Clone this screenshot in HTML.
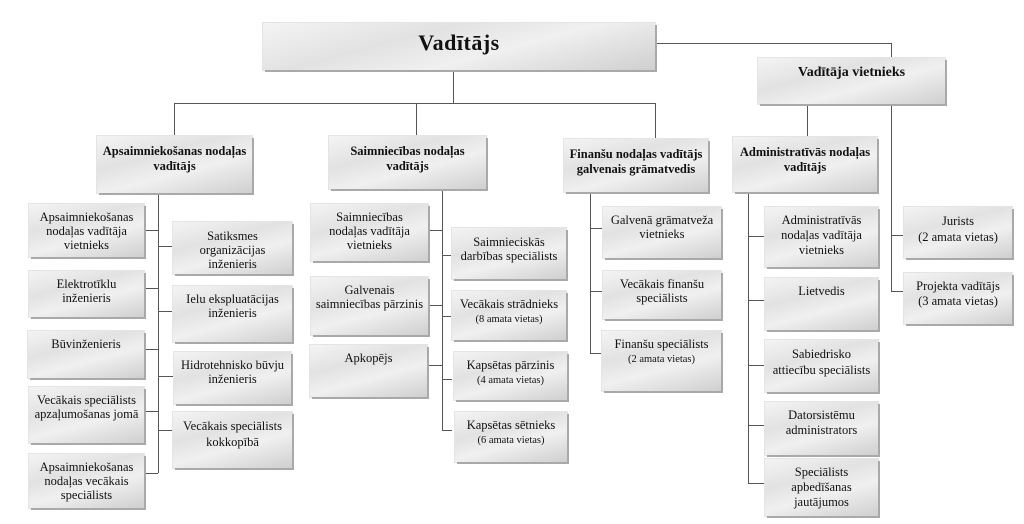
<!DOCTYPE html>
<html><head><meta charset="utf-8"><style>
body{margin:0;width:1024px;height:524px;background:#fff;position:relative;overflow:hidden;font-family:"Liberation Serif","Times New Roman",Times,serif;color:#111}
.b{position:absolute;box-sizing:border-box;text-align:center;font-family:"Liberation Serif","Times New Roman",Times,serif;font-size:12.5px;line-height:14px;padding-top:6px;
background:linear-gradient(165deg,#f4f4f4 0%,#e2e2e2 35%,#f0f0f0 60%,#cfcfcf 100%);
box-shadow:2px 2px 0 #a9a9a9,0 0 0 1px #e4e4e4;}
.h{font-weight:bold;font-size:12.5px;line-height:15px;padding-top:8px}
.l{position:absolute;background:#555}
</style></head><body>
<div class="l" style="left:453px;top:70px;width:1px;height:34px"></div>
<div class="l" style="left:174px;top:103px;width:482px;height:1px"></div>
<div class="l" style="left:174px;top:103px;width:1px;height:33px"></div>
<div class="l" style="left:416px;top:103px;width:1px;height:33px"></div>
<div class="l" style="left:655px;top:103px;width:1px;height:36px"></div>
<div class="l" style="left:655px;top:43px;width:237px;height:1px"></div>
<div class="l" style="left:891px;top:43px;width:1px;height:15px"></div>
<div class="l" style="left:807px;top:104px;width:1px;height:33px"></div>
<div class="l" style="left:891px;top:104px;width:1px;height:188px"></div>

<div class="l" style="left:158px;top:193px;width:1px;height:280px"></div>
<div class="l" style="left:144px;top:230px;width:14px;height:1px"></div>
<div class="l" style="left:144px;top:288px;width:14px;height:1px"></div>
<div class="l" style="left:144px;top:349px;width:14px;height:1px"></div>
<div class="l" style="left:144px;top:411px;width:14px;height:1px"></div>
<div class="l" style="left:144px;top:473px;width:14px;height:1px"></div>
<div class="l" style="left:158px;top:246px;width:15px;height:1px"></div>
<div class="l" style="left:158px;top:311px;width:15px;height:1px"></div>
<div class="l" style="left:158px;top:376px;width:15px;height:1px"></div>
<div class="l" style="left:158px;top:430px;width:15px;height:1px"></div>

<div class="l" style="left:442px;top:189px;width:1px;height:242px"></div>
<div class="l" style="left:428px;top:230px;width:14px;height:1px"></div>
<div class="l" style="left:428px;top:305px;width:14px;height:1px"></div>
<div class="l" style="left:428px;top:365px;width:14px;height:1px"></div>
<div class="l" style="left:442px;top:255px;width:10px;height:1px"></div>
<div class="l" style="left:442px;top:316px;width:10px;height:1px"></div>
<div class="l" style="left:442px;top:379px;width:10px;height:1px"></div>
<div class="l" style="left:442px;top:430px;width:10px;height:1px"></div>

<div class="l" style="left:590px;top:192px;width:1px;height:162px"></div>
<div class="l" style="left:590px;top:228px;width:13px;height:1px"></div>
<div class="l" style="left:590px;top:291px;width:13px;height:1px"></div>
<div class="l" style="left:590px;top:353px;width:13px;height:1px"></div>

<div class="l" style="left:748px;top:192px;width:1px;height:292px"></div>
<div class="l" style="left:748px;top:236px;width:17px;height:1px"></div>
<div class="l" style="left:748px;top:300px;width:17px;height:1px"></div>
<div class="l" style="left:748px;top:365px;width:17px;height:1px"></div>
<div class="l" style="left:748px;top:425px;width:17px;height:1px"></div>
<div class="l" style="left:748px;top:483px;width:17px;height:1px"></div>

<div class="l" style="left:891px;top:235px;width:13px;height:1px"></div>
<div class="l" style="left:891px;top:291px;width:13px;height:1px"></div>

<div class="b" style="left:263px;top:23px;width:392px;height:47px;font-weight:bold;font-size:22px;line-height:24px;padding-top:8px;letter-spacing:0.5px">Vadītājs</div>
<div class="b" style="left:758px;top:58px;width:187px;height:46px;font-weight:bold;font-size:14px;line-height:16px;padding-top:7px">Vadītāja vietnieks</div>

<div class="b h" style="left:97px;top:136px;width:155px;height:57px">Apsaimniekošanas nodaļas<br>vadītājs</div>
<div class="b h" style="left:329px;top:136px;width:157px;height:53px">Saimniecības nodaļas<br>vadītājs</div>
<div class="b h" style="left:564px;top:139px;width:144px;height:53px">Finanšu nodaļas vadītājs<br>galvenais grāmatvedis</div>
<div class="b h" style="left:733px;top:137px;width:144px;height:55px">Administratīvās nodaļas<br>vadītājs</div>

<div class="b" style="left:29px;top:204px;width:115px;height:53px">Apsaimniekošanas<br>nodaļas vadītāja<br>vietnieks</div>
<div class="b" style="left:29px;top:271px;width:115px;height:46px">Elektrotīklu<br>inženieris</div>
<div class="b" style="left:28px;top:331px;width:116px;height:47px">Būvinženieris</div>
<div class="b" style="left:29px;top:387px;width:115px;height:56px">Vecākais speciālists<br>apzaļumošanas jomā</div>
<div class="b" style="left:29px;top:454px;width:115px;height:54px">Apsaimniekošanas<br>nodaļas vecākais<br>speciālists</div>

<div class="b" style="left:173px;top:222px;width:119px;height:52px;padding-top:7px">Satiksmes<br>organizācijas<br>inženieris</div>
<div class="b" style="left:173px;top:286px;width:119px;height:56px">Ielu ekspluatācijas<br>inženieris</div>
<div class="b" style="left:174px;top:352px;width:117px;height:52px">Hidrotehnisko būvju<br>inženieris</div>
<div class="b" style="left:173px;top:412px;width:119px;height:56px;line-height:16px">Vecākais speciālists<br>kokkopībā</div>

<div class="b" style="left:311px;top:204px;width:117px;height:57px">Saimniecības<br>nodaļas vadītāja<br>vietnieks</div>
<div class="b" style="left:311px;top:277px;width:117px;height:58px">Galvenais<br>saimniecības pārzinis</div>
<div class="b" style="left:310px;top:345px;width:117px;height:52px">Apkopējs</div>

<div class="b" style="left:452px;top:228px;width:114px;height:51px;padding-top:7px">Saimnieciskās<br>darbības speciālists</div>
<div class="b" style="left:452px;top:291px;width:114px;height:49px"><span>Vecākais strādnieks</span><br><span style="font-size:10.5px">(8 amata vietas)</span></div>
<div class="b" style="left:454px;top:352px;width:113px;height:48px"><span>Kapsētas pārzinis</span><br><span style="font-size:10.5px">(4 amata vietas)</span></div>
<div class="b" style="left:455px;top:412px;width:112px;height:50px"><span>Kapsētas sētnieks</span><br><span style="font-size:10.5px">(6 amata vietas)</span></div>

<div class="b" style="left:603px;top:207px;width:118px;height:51px">Galvenā grāmatveža<br>vietnieks</div>
<div class="b" style="left:603px;top:271px;width:118px;height:48px">Vecākais finanšu<br>speciālists</div>
<div class="b" style="left:602px;top:331px;width:119px;height:60px"><span>Finanšu speciālists</span><br><span style="font-size:10.5px">(2 amata vietas)</span></div>

<div class="b" style="left:765px;top:207px;width:113px;height:60px;line-height:15px">Administratīvās<br>nodaļas vadītāja<br>vietnieks</div>
<div class="b" style="left:765px;top:278px;width:113px;height:52px">Lietvedis</div>
<div class="b" style="left:765px;top:340px;width:113px;height:52px;line-height:16px">Sabiedrisko<br>attiecību speciālists</div>
<div class="b" style="left:765px;top:402px;width:113px;height:53px;line-height:15px">Datorsistēmu<br>administrators</div>
<div class="b" style="left:765px;top:459px;width:113px;height:57px;line-height:15px">Speciālists<br>apbedīšanas<br>jautājumos</div>

<div class="b" style="left:904px;top:207px;width:108px;height:51px;line-height:16px">Jurists<br>(2 amata vietas)</div>
<div class="b" style="left:904px;top:273px;width:108px;height:51px;line-height:15px">Projekta vadītājs<br>(3 amata vietas)</div>
</body></html>
